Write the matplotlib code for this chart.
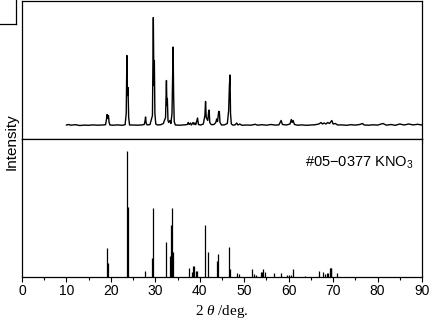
import numpy as np
import matplotlib.pyplot as plt
from matplotlib.lines import Line2D
from matplotlib.ticker import MultipleLocator

plt.rcParams['font.family'] = ['Liberation Sans', 'DejaVu Sans']
plt.rcParams['mathtext.fontset'] = 'custom'
plt.rcParams['mathtext.rm'] = 'Liberation Sans'
plt.rcParams['mathtext.it'] = 'Liberation Serif:italic'

# 测量谱 (2theta, intensity)
meas_x = [10.0, 10.5, 11.0, 12.0, 13.0, 14.0, 15.0, 16.0, 17.0, 18.0, 18.8,
          19.0, 19.15, 19.3, 19.45, 19.6, 19.8, 20.5, 21.5, 22.5, 23.2,
          23.45, 23.6, 23.72, 23.85, 24.0, 24.2, 25.0, 26.0, 27.0, 27.5,
          27.7, 27.8, 27.95, 28.2, 28.8,
          29.35, 29.55, 29.68, 29.78, 29.9, 30.1, 30.5, 31.2, 31.8,
          32.3, 32.5, 32.6, 32.7, 32.85, 33.0, 33.3, 33.5,
          33.75, 33.9, 34.0, 34.12, 34.25, 34.5, 35.5, 36.5,
          37.2, 37.4, 37.6, 37.9, 38.1, 38.5, 38.7, 38.9, 39.1, 39.5, 39.7, 40.2, 40.8,
          41.15, 41.3, 41.45, 41.8, 42.0, 42.1, 42.25, 42.6, 43.2, 43.6, 43.8, 44.0,
          44.25, 44.4, 44.55, 44.9, 45.5, 46.2,
          46.5, 46.65, 46.8, 46.92, 47.1, 47.5, 48.0, 48.3, 48.6, 49.0, 49.5,
          50.5, 51.5, 52.5, 53.0, 54.0, 55.0, 56.0, 57.0, 57.8, 58.3, 58.6, 59.5,
          60.3, 60.6, 60.8, 61.0, 61.3, 62.0, 63.0, 64.0, 65.0, 66.0, 66.8, 67.3,
          67.6, 68.0, 68.4, 68.8, 69.2, 69.7, 70.0, 70.5, 71.0, 72.0, 73.0, 74.0,
          75.0, 76.0, 76.6, 77.0, 78.0, 79.0, 80.0, 81.2, 82.0, 83.0, 84.0, 85.0,
          86.0, 87.0, 88.0, 89.0, 90.0]
meas_y = [0.5, 1.0, 0.3, 0.8, 0.0, 0.4, 0.2, 0.6, 0.3, 0.5, 0.8,
          6, 11, 7, 10, 3, 0.5, 0.3, 0.6, 0.2, 0.8,
          12, 70, 30, 38, 8, 0.5, 0.5, 0.3, 0.6, 1.0,
          5, 8.5, 2, 0.5, 1.0,
          10, 108, 40, 65, 12, 1.5, 0.5, 0.8, 2.0,
          8, 45, 20, 27, 5, 3, 5, 2,
          12, 49, 78.5, 30, 4, 0.5, 0.3, 0.6,
          1, 3, 1, 2.5, 0.5, 3, 1, 2.5, 0.8, 7.5, 1, 0.5, 1.5,
          10, 24, 8, 5, 14, 15.5, 3, 0.8, 1, 3, 6.5, 4,
          14, 14, 3, 0.5, 0.6, 2,
          15, 38, 50.5, 12, 1.5, 0.3, 0.8, 2.5, 0.5, 1.5, 0.2,
          0.5, 0.3, 1.2, 0.3, 0.8, 0.3, 1.0, 0.4, 0.6, 5, 1, 0.5,
          1.5, 6, 3, 5, 1, 0.3, 0.6, 0.2, 0.5, 0.8, 1.5, 3,
          1.5, 2.5, 1.5, 3, 2, 5, 1.5, 2, 0.5, 0.6, 0.2, 0.8,
          0.4, 1.0, 2, 0.5, 0.3, 0.7, 0.4, 2, 0.3, 1.0, 0.2, 1.5,
          0.5, 1.5, 0.6, 1.2, 0.5]

# 标准卡 #05-0377 KNO3
ref_x = [19.05, 19.42, 23.55, 23.9, 27.75, 29.18, 29.55, 32.48, 33.2, 33.6,
         33.83, 34.05, 37.5, 38.2, 38.55, 38.8, 39.15, 39.45, 41.25, 41.9,
         43.8, 44.2, 46.65, 46.9, 48.3, 48.9, 51.8, 52.3, 52.7, 53.7,
         54.0, 54.3, 54.75, 56.7, 58.2, 59.6, 60.0, 60.45, 61.05, 63.75,
         66.9, 67.8, 68.2, 68.7, 68.9, 69.2, 69.45, 69.6, 70.9]
ref_h = [29, 13.7, 126, 69.7, 5.7, 19, 68.7, 35, 21, 52,
         68.7, 24.7, 9, 4.7, 11, 11, 6, 6, 52, 25,
         16, 23, 30, 8, 3.7, 3, 8, 3, 2, 5,
         5, 7.7, 5.5, 4, 4, 2.5, 2.5, 2.5, 8, 1,
         6, 5.5, 3, 4.5, 4.5, 9, 9, 9, 4.5]

W, H = 433, 336
fig = plt.figure(figsize=(W / 100, H / 100), dpi=100)
left, right = 22 / W, 422 / W
ax1 = fig.add_axes([left, 1 - 138.5 / H, right - left, 137.5 / H])
ax2 = fig.add_axes([left, 1 - 277 / H, right - left, 138 / H], sharex=ax1)

ax1.plot(meas_x, meas_y, color='k', lw=1.0)
ax1.set_ylim(-13, 124.5)
ax1.set_xlim(0, 90)

ax2.vlines(ref_x, 0, ref_h, color='k', lw=0.9)
ax2.set_ylim(0, 138)
ax2.set_xlim(0, 90)
ax2.xaxis.set_major_locator(MultipleLocator(10))
ax2.xaxis.set_minor_locator(MultipleLocator(5))

# 上图底边的刻度朝下，伸进下图
ax1.tick_params(left=False, labelleft=False)
ax1.tick_params(axis='x', which='both', bottom=True, labelbottom=False, direction='out', width=0.8)
ax1.tick_params(axis='x', which='major', length=3.5)
ax1.tick_params(axis='x', which='minor', length=2)

ax2.tick_params(left=False, labelleft=False)
ax2.tick_params(axis='x', which='both', top=False, direction='out', labelsize=10, pad=1.5, width=0.8)
ax2.tick_params(axis='x', which='major', length=3.5)
ax2.tick_params(axis='x', which='minor', length=2)
ax2.text(0.98, 0.83, '#05\u22120377 KNO$_3$', transform=ax2.transAxes,
         ha='right', va='center', fontsize=10.5)

for ax in (ax1, ax2):
  for s in ax.spines.values():
    s.set_linewidth(0.9)

ax2.set_xlabel('2 $\\theta$ /deg.', fontfamily='Liberation Serif', fontsize=11, labelpad=4)
fig.text(12 / W, 1 - 142 / H, 'Intensity', rotation=90, ha='center', va='center', fontsize=11)

# 左上角的残留框
fig.add_artist(Line2D([0, 16 / W], [1 - 24 / H, 1 - 24 / H], color='k', lw=0.9))
fig.add_artist(Line2D([16 / W, 16 / W], [1, 1 - 24 / H], color='k', lw=0.9))

fig.savefig('out.png', dpi=100)
